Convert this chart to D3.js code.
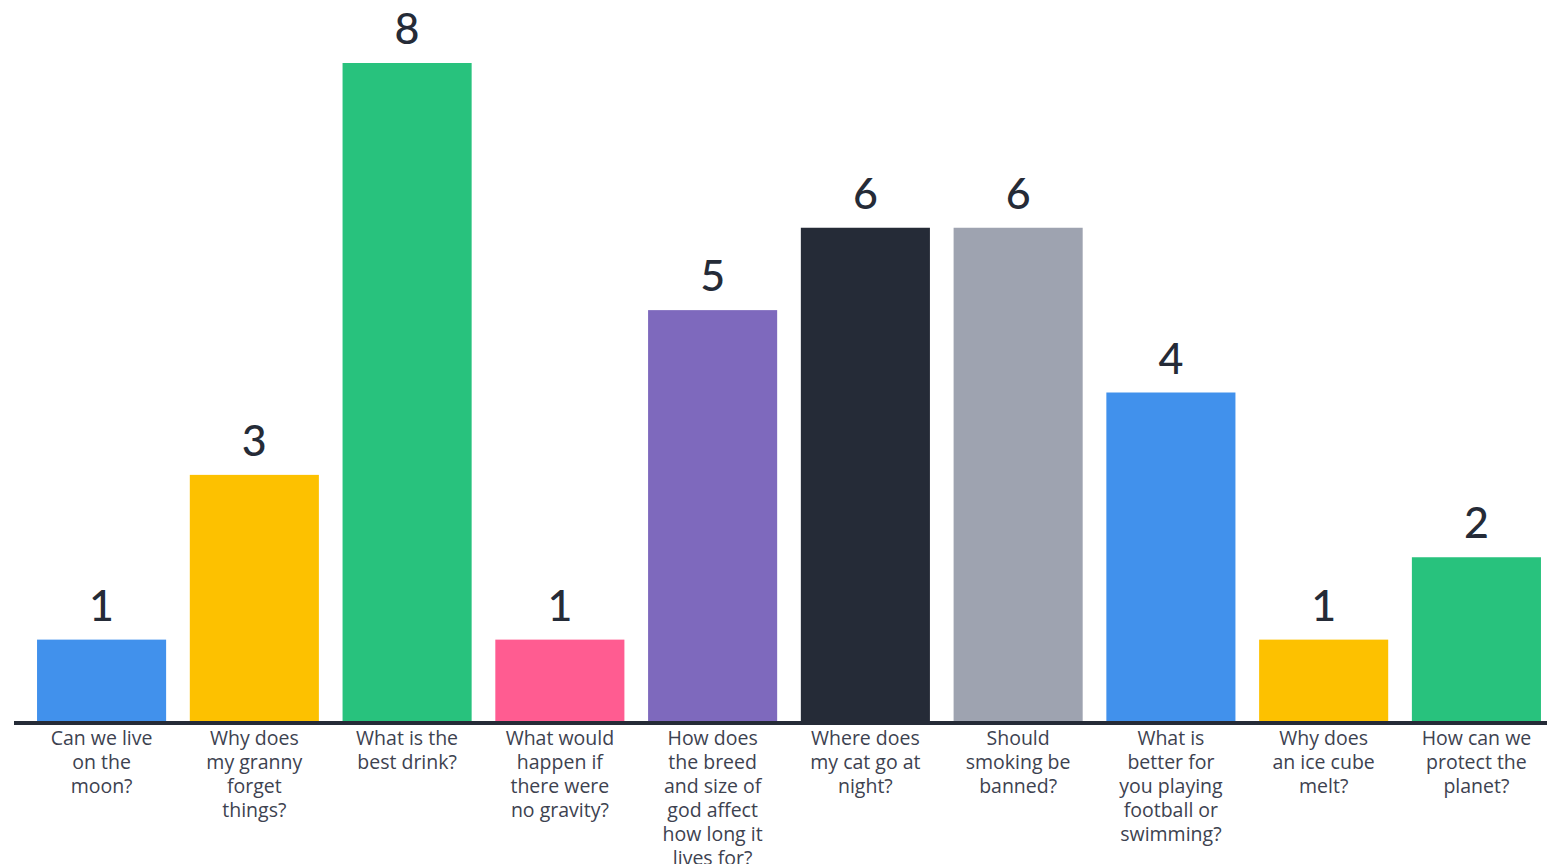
<!DOCTYPE html>
<html>
<head>
<meta charset="utf-8">
<script src="https://cdn.jsdelivr.net/npm/d3@7"></script>
<style>
  html, body { margin: 0; padding: 0; background: #fff; overflow: hidden; }
  svg { display: block; font-family: "Lato", "Noto Sans", sans-serif; }
</style>
</head>
<body>
<div id="chart"></div>
<script>
// Question labels (already split into lines as in the original)
const questions = [
    ["Can we live", "on the", "moon?"],
    ["Why does", "my granny", "forget", "things?"],
    ["What is the", "best drink?"],
    ["What would", "happen if", "there were", "no gravity?"],
    ["How does", "the breed", "and size of", "god affect", "how long it", "lives for?"],
    ["Where does", "my cat go at", "night?"],
    ["Should", "smoking be", "banned?"],
    ["What is", "better for", "you playing", "football or", "swimming?"],
    ["Why does", "an ice cube", "melt?"],
    ["How can we", "protect the", "planet?"]
];
const votes = [1, 3, 8, 1, 5, 6, 6, 4, 1, 2];
const barColors = ["#4191ec", "#fdc100", "#28c27d", "#ff5c91", "#7e69bd",
                   "#252b37", "#9ea3b0", "#4191ec", "#fdc100", "#28c27d"];

const width = 1547, height = 864;
const baseY = 722, topY = 63;

const svg = d3.select("#chart")
    .append("svg")
    .attr("width", width)
    .attr("height", height);

const x = d3.scaleBand()
    .domain(d3.range(votes.length))
    .range([25.2, 1552.8])
    .paddingInner(0.155)
    .paddingOuter(0.0775);

const y = d3.scaleLinear()
    .domain([0, 8])
    .range([baseY, topY]);

// bars
svg.selectAll("rect.bar")
    .data(votes)
    .join("rect")
    .attr("class", "bar")
    .attr("x", (d, i) => x(i))
    .attr("y", d => y(d))
    .attr("width", x.bandwidth())
    .attr("height", d => y(0) - y(d))
    .attr("fill", (d, i) => barColors[i]);

// value labels
svg.selectAll("text.value")
    .data(votes)
    .join("text")
    .attr("class", "value")
    .attr("x", (d, i) => x(i) + x.bandwidth() / 2)
    .attr("y", d => y(d) - 19)
    .attr("text-anchor", "middle")
    .attr("font-size", "43px")
    .attr("font-weight", 500)
    .attr("fill", "#252b37")
    .text(d => d);

// baseline
svg.append("line")
    .attr("x1", 14)
    .attr("x2", width)
    .attr("y1", y(0) + 1)
    .attr("y2", y(0) + 1)
    .attr("stroke", "#252b37")
    .attr("stroke-width", 4);

// category labels
const labels = svg.selectAll("text.cat")
    .data(questions)
    .join("text")
    .attr("class", "cat")
    .attr("text-anchor", "middle")
    .attr("font-family", "'Open Sans', 'Noto Sans', sans-serif")
    .attr("font-size", "19.5px")
    .attr("fill", "#3d4250");

labels.selectAll("tspan")
    .data((d, i) => d.map(line => ({ line, i })))
    .join("tspan")
    .attr("x", d => x(d.i) + x.bandwidth() / 2)
    .attr("y", (d, j) => 745 + j * 24)
    .text(d => d.line);
</script>
</body>
</html>
